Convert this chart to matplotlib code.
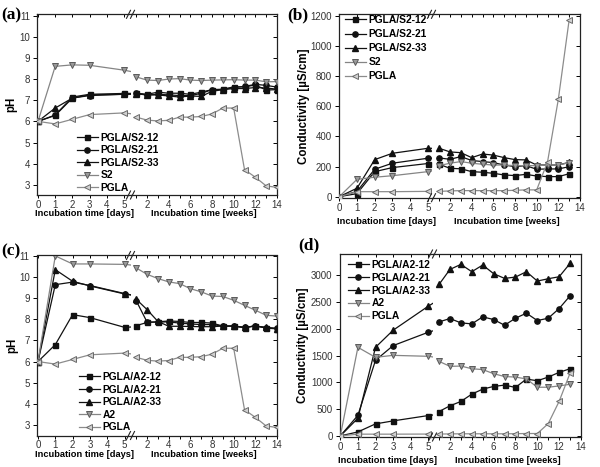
import matplotlib
matplotlib.use("Agg")
import matplotlib.pyplot as plt
from matplotlib.lines import Line2D
from matplotlib.ticker import MultipleLocator

plt.rcParams['font.family'] = ['Liberation Sans', 'DejaVu Sans']

# ---------------- data ----------------
days = [0, 1, 2, 3, 5]
weeks14 = list(range(1, 15))
weeks13 = list(range(1, 14))
day_ticks = [0, 1, 2, 3, 4, 5]
week_ticks = [2, 4, 6, 8, 10, 12, 14]

# (a) pH, PGLA/S2
a_s12_d = [6.0, 6.3, 7.15, 7.28, 7.32]
a_s12_w = [7.33, 7.28, 7.38, 7.33, 7.33, 7.28, 7.38, 7.5, 7.52, 7.63, 7.63, 7.72, 7.48, 7.5]
a_s21_d = [6.0, 6.28, 7.1, 7.22, 7.28]
a_s21_w = [7.32, 7.25, 7.28, 7.25, 7.22, 7.22, 7.32, 7.5, 7.5, 7.6, 7.65, 7.75, 7.7, 7.62]
a_s33_d = [6.0, 6.63, 7.1, 7.25, 7.28]
a_s33_w = [7.3, 7.25, 7.25, 7.2, 7.15, 7.2, 7.18, 7.42, 7.5, 7.55, 7.55, 7.6, 7.58, 7.52]
a_s2_d = [6.0, 8.6, 8.67, 8.65, 8.42]
a_s2_w = [8.1, 7.95, 7.93, 8.0, 8.02, 7.95, 7.93, 7.95, 7.96, 7.97, 7.95, 7.95, 7.87, 7.88]
pgla_ph_d = [6.0, 5.88, 6.1, 6.32, 6.4]
pgla_ph_w = [6.2, 6.06, 6.02, 6.05, 6.2, 6.2, 6.23, 6.35, 6.63, 6.63, 3.72, 3.36, 2.95, 2.88]

# (b) conductivity, PGLA/S2
b_s12_d = [0, 20, 166, 193, 220]
b_s12_w = [215, 188, 185, 166, 162, 155, 144, 140, 148, 137, 133, 133, 152]
b_s21_d = [0, 35, 182, 222, 255]
b_s21_w = [257, 248, 266, 240, 233, 226, 210, 199, 206, 182, 184, 184, 199]
b_s33_d = [0, 56, 246, 288, 321]
b_s33_w = [321, 297, 292, 259, 283, 276, 259, 246, 244, 210, 210, 210, 228]
b_s2_d = [0, 115, 129, 139, 166]
b_s2_w = [206, 222, 233, 222, 215, 210, 210, 206, 206, 206, 210, 210, 226]
pgla_c_d = [0, 33, 33, 33, 35]
pgla_c_w = [35, 38, 40, 40, 40, 40, 40, 42, 45, 45, 230, 647, 1175]

# (c) pH, PGLA/A2
c_a12_d = [6.0, 6.8, 8.22, 8.08, 7.62]
c_a12_w = [7.7, 7.85, 7.88, 7.92, 7.9, 7.85, 7.85, 7.82, 7.68, 7.68, 7.6, 7.7, 7.58, 7.55]
c_a21_d = [6.0, 9.64, 9.76, 9.6, 9.22]
c_a21_w = [8.88, 7.87, 7.87, 7.88, 7.82, 7.78, 7.75, 7.75, 7.68, 7.68, 7.62, 7.68, 7.6, 7.58]
c_a33_d = [6.0, 10.35, 9.8, 9.58, 9.2]
c_a33_w = [8.95, 8.46, 7.9, 7.67, 7.67, 7.66, 7.65, 7.65, 7.68, 7.68, 7.62, 7.68, 7.62, 7.55]
c_a2_d = [6.0, 11.0, 10.62, 10.62, 10.6]
c_a2_w = [10.43, 10.13, 9.93, 9.77, 9.69, 9.45, 9.3, 9.1, 9.08, 8.9, 8.66, 8.43, 8.19, 8.15]

# (d) conductivity, PGLA/A2
d_a12_d = [0, 75, 225, 281, 381]
d_a12_w = [456, 563, 644, 781, 875, 925, 950, 906, 1063, 1031, 1100, 1188, 1256]
d_a21_d = [0, 385, 1413, 1688, 1938]
d_a21_w = [2131, 2194, 2113, 2094, 2225, 2175, 2069, 2200, 2294, 2156, 2200, 2381, 2619]
d_a33_d = [0, 330, 1656, 1975, 2425]
d_a33_w = [2831, 3112, 3206, 3069, 3194, 3032, 2944, 2969, 3069, 2894, 2938, 2975, 3225]
d_a2_d = [0, 1656, 1469, 1506, 1488]
d_a2_w = [1394, 1300, 1306, 1256, 1240, 1163, 1110, 1100, 1065, 910, 910, 935, 965]

labels_s = ['PGLA/S2-12', 'PGLA/S2-21', 'PGLA/S2-33', 'S2', 'PGLA']
labels_a = ['PGLA/A2-12', 'PGLA/A2-21', 'PGLA/A2-33', 'A2', 'PGLA']

# ---------------- styles ----------------
BLK = '#111111'
styles = [
    dict(color=BLK, marker='s', mfc=BLK, mec=BLK, ms=3.6, lw=0.9),
    dict(color=BLK, marker='o', mfc=BLK, mec=BLK, ms=3.8, lw=0.9),
    dict(color=BLK, marker='^', mfc=BLK, mec=BLK, ms=4.0, lw=0.9),
    dict(color='#858585', marker='v', mfc='#9a9a9a', mec='#5a5a5a', ms=4.5, lw=0.9, mew=0.7),
    dict(color='#8c8c8c', marker='<', mfc='#d0d0d0', mec='#6a6a6a', ms=4.5, lw=0.9, mew=0.7),
]

W, H = 600, 467
fig = plt.figure(figsize=(6, 4.67), dpi=100)


def px_axes(x0, x1, top, bottom):
    return fig.add_axes([x0 / W, 1 - bottom / H, (x1 - x0) / W, (bottom - top) / H])


def fline(x0, y0, x1, y1, **kw):
    fig.add_artist(Line2D([x0 / W, x1 / W], [1 - y0 / H, 1 - y1 / H],
                          transform=fig.transFigure, **kw))


def panel(geo, series_d, series_w, weeks, labels, ylim, yticks, ylabel,
          letter, letter_pos, ylab_x, xlab_y, leg_pos, leg_spacing):
    x_left, day0, dpx, brk, w14, wpx, top, bottom = geo
    axL = px_axes(x_left, brk, top, bottom)
    axR = px_axes(brk, w14, top, bottom)
    axR.patch.set_visible(False)
    handles = []
    for sd, sw, st in zip(series_d, series_w, styles):
        h, = axL.plot(days + [7], sd + [sw[0]], **st, zorder=3)
        axR.plot(weeks, sw, **st, zorder=3)
        handles.append(h)
    axL.set_xlim((x_left - day0) / dpx, (brk - day0) / dpx)
    axR.set_xlim(14 - (w14 - brk) / wpx, 14)
    for ax in (axL, axR):
        ax.set_ylim(*ylim)
        ax.set_yticks(yticks)
        for s in ax.spines.values():
            s.set_linewidth(0.9)
            s.set_color('#222222')
    axL.spines['right'].set_visible(False)
    axR.spines['left'].set_visible(False)
    axL.set_xticks(day_ticks)
    axR.set_xticks(week_ticks)
    axR.xaxis.set_minor_locator(MultipleLocator(1))
    for ax in (axL, axR):
        ax.tick_params(axis='x', which='both', bottom=True, top=True, direction='out',
                       length=2.5, width=0.7, labelsize=7, labelcolor='#333333', pad=1)
    axR.tick_params(axis='x', which='minor', length=2)
    for ax in (axL, axR):
        for t in ax.xaxis.get_ticklines(minor=False)[1::2]:
            t.set_marker(3)  # top ticks inward
        for t in ax.xaxis.get_ticklines(minor=True)[1::2]:
            t.set_marker(3)
    axL.tick_params(axis='y', left=True, right=False, direction='out', length=3,
                    width=0.7, labelsize=7, labelcolor='#333333', pad=2)
    axR.tick_params(axis='y', left=False, right=True, labelleft=False,
                    direction='in', length=3, width=0.7)
    # break marks
    bx = brk
    for yy in (top, bottom):
        for dx in (-2.5, 1.5):
            fline(bx + dx - 2, yy + 4, bx + dx + 2, yy - 4, color='#222222', lw=0.8)
    # labels
    fig.text(letter_pos[0] / W, 1 - letter_pos[1] / H, letter, family='Liberation Serif',
             fontweight='bold', fontsize=12.5, ha='left', va='center')
    fig.text(ylab_x / W, 1 - (top + bottom) / 2 / H, ylabel, rotation=90,
             fontweight='bold', fontsize=8.3, ha='center', va='center')
    dcenter = (day0 + (day0 + 5 * dpx)) / 2 + 3
    wcenter = (w14 - 7 * wpx) + 3
    fig.text(dcenter / W, 1 - xlab_y / H, 'Incubation time [days]', fontweight='bold',
             fontsize=6.7, ha='center', va='center')
    fig.text(wcenter / W, 1 - xlab_y / H, 'Incubation time [weeks]', fontweight='bold',
             fontsize=6.7, ha='center', va='center')
    fig.legend(handles, labels, loc='upper left',
               bbox_to_anchor=(leg_pos[0] / W, 1 - leg_pos[1] / H),
               frameon=False, borderpad=0, borderaxespad=0, handlelength=2.0,
               handletextpad=0.3, labelspacing=leg_spacing,
               prop=dict(weight='bold', size=7.4))


panel((37, 38, 17.2, 131, 277, 10.83, 14.3, 195),
      [a_s12_d, a_s21_d, a_s33_d, a_s2_d, pgla_ph_d],
      [a_s12_w, a_s21_w, a_s33_w, a_s2_w, pgla_ph_w], weeks14, labels_s,
      (2.52, 11.06), range(3, 12), 'pH', '(a)', (1, 15), 11, 213.5, (77, 133), 0.24)

panel((338.5, 339.3, 17.7, 432, 580, 10.83, 14.3, 197.7),
      [b_s12_d, b_s21_d, b_s33_d, b_s2_d, pgla_c_d],
      [b_s12_w, b_s21_w, b_s33_w, b_s2_w, pgla_c_w], weeks13, labels_s,
      (-7, 1211), range(0, 1201, 200), 'Conductivity [µS/cm]', '(b)', (287, 15), 304,
      221, (345, 15), 0.4)

panel((36.7, 38, 17.3, 131, 277, 10.83, 255.5, 435.5),
      [c_a12_d, c_a21_d, c_a33_d, c_a2_d, pgla_ph_d],
      [c_a12_w, c_a21_w, c_a33_w, c_a2_w, pgla_ph_w], weeks14, labels_a,
      (2.5, 11.02), range(3, 12), 'pH', '(c)', (1, 251), 12, 454.5, (79, 372), 0.25)

panel((339.5, 340.3, 17.6, 433, 581, 10.92, 254, 437),
      [d_a12_d, d_a21_d, d_a33_d, d_a2_d, pgla_c_d],
      [d_a12_w, d_a21_w, d_a33_w, d_a2_w, pgla_c_w], weeks13, labels_a,
      (-20, 3400), range(0, 3001, 500), 'Conductivity [µS/cm]', '(d)', (298, 245), 303,
      460.5, (348, 260), 0.27)

fig.savefig('out.png', dpi=100)
